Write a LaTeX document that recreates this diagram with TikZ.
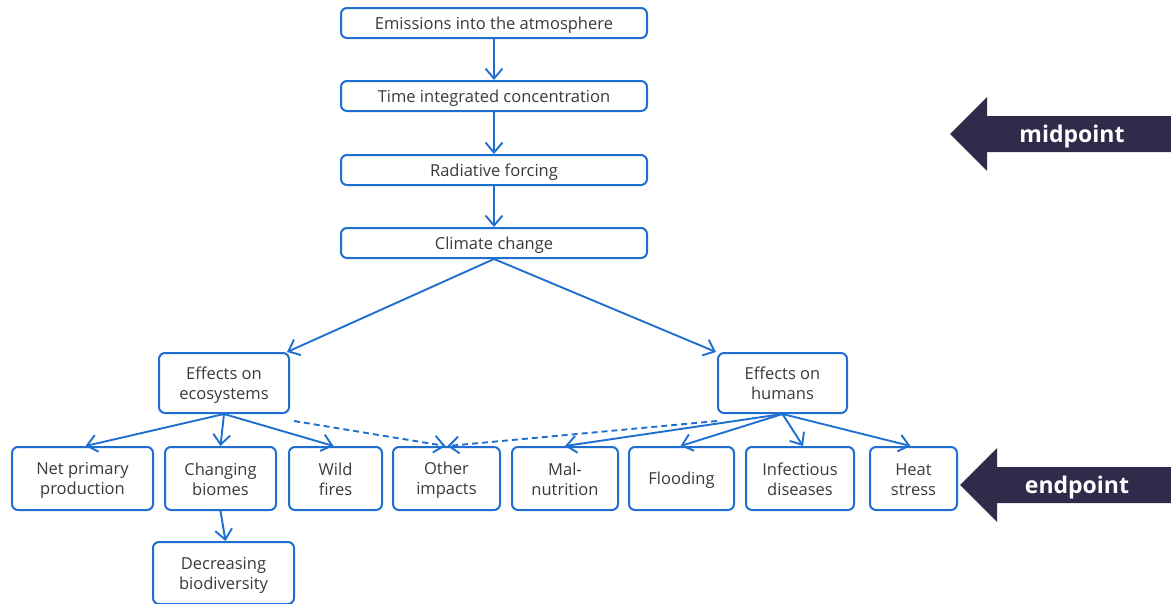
\documentclass[tikz,border=0pt]{standalone}
\usepackage{fontspec}
\setmainfont{Open Sans}
\usetikzlibrary{arrows.meta}
\definecolor{flowblue}{HTML}{1F6FD1}
\definecolor{txtgrey}{HTML}{3A3A3A}
\definecolor{darkplum}{HTML}{322A4B}
% fixed line struts so every label sits at the same height in its box
\newcommand\bxtop{\rule{0pt}{16pt}}
\newcommand\bxbot{\rule[-3pt]{0pt}{3pt}}
\tikzset{
  box/.style={draw=flowblue, line width=2pt, rounded corners=6pt, fill=white,
    text=txtgrey, font=\fontsize{16.5}{20}\selectfont, align=center, inner sep=0pt},
  link/.style={draw=flowblue, line width=1.9pt, -{Straight Barb[length=10pt,width=17pt,line width=1.9pt]}},
  dlink/.style={link, dash pattern=on 6pt off 4pt},
  banner/.style={fill=darkplum, draw=none},
  bannertext/.style={text=white, font=\bfseries\fontsize{23}{26}\selectfont}
}
\begin{document}
\begin{tikzpicture}[x=1pt, y=-1pt]
\useasboundingbox (0,0) rectangle (1171,603);
% main chain
\node[box, minimum width=306pt, minimum height=30pt] (emis) at (494,23) {\bxtop Emissions into the atmosphere\bxbot};
\node[box, minimum width=306pt, minimum height=30pt] (conc) at (494,96) {\bxtop Time integrated concentration\bxbot};
\node[box, minimum width=306pt, minimum height=30pt] (forc) at (494,170) {\bxtop Radiative forcing\bxbot};
\node[box, minimum width=306pt, minimum height=30pt] (clim) at (494,243) {\bxtop Climate change\bxbot};
% effect groups
\node[box, minimum width=130pt, minimum height=60pt] (eco) at (224,383) {\bxtop Effects on\\ecosystems\bxbot};
\node[box, minimum width=129pt, minimum height=60pt] (hum) at (782.5,383) {\bxtop Effects on\\humans\bxbot};
% endpoints
\node[box, minimum width=141pt, minimum height=63pt] (npp) at (82.5,478.5) {\bxtop Net primary\\production\bxbot};
\node[box, minimum width=111pt, minimum height=63pt] (biom) at (220.5,478.5) {\bxtop Changing\\biomes\bxbot};
\node[box, minimum width=93pt, minimum height=63pt] (fire) at (335.5,478.5) {\bxtop Wild\\fires\bxbot};
\node[box, minimum width=107pt, minimum height=63pt] (other) at (446.5,478.5) {\bxtop Other\\impacts\bxbot};
\node[box, minimum width=106pt, minimum height=63pt] (maln) at (565,478.5) {\bxtop Mal-\\nutrition\bxbot};
\node[box, minimum width=105pt, minimum height=63pt] (flood) at (681.5,478.5) {\bxtop Flooding\bxbot};
\node[box, minimum width=108pt, minimum height=63pt] (infe) at (800,478.5) {\bxtop Infectious\\diseases\bxbot};
\node[box, minimum width=87pt, minimum height=63pt] (heat) at (913.5,478.5) {\bxtop Heat\\stress\bxbot};
\node[box, minimum width=141pt, minimum height=62pt] (biod) at (223.5,573) {\bxtop Decreasing\\biodiversity\bxbot};
% connectors
\draw[link] (emis.south) -- (conc.north);
\draw[link] (conc.south) -- (forc.north);
\draw[link] (forc.south) -- (clim.north);
\draw[link] (clim.south) -- ([xshift=-3pt]eco.north east);
\draw[link] (clim.south) -- ([xshift=-1pt]hum.north west);
\draw[link] (eco.south) -- ([xshift=3pt]npp.north);
\draw[link] (eco.south) -- (biom.north);
\draw[link] (eco.south) -- ([xshift=-2pt]fire.north);
\draw[dlink] ([xshift=4pt,yshift=-7pt]eco.south east) -- ([xshift=-1pt]other.north);
\draw[dlink] ([yshift=-7pt]hum.south west) -- ([xshift=1pt]other.north);
\draw[link] (hum.south) -- (maln.north);
\draw[link] (hum.south) -- ([xshift=-1pt]flood.north);
\draw[link] (hum.south) -- ([xshift=3pt]infe.north);
\draw[link] (hum.south) -- ([xshift=-3pt]heat.north);
\draw[link] (biom.south) -- ([xshift=2pt]biod.north);
% level banners
\fill[banner] (950,134) -- (987,97) -- (987,116) -- (1171,116) -- (1171,152) -- (987,152) -- (987,171) -- cycle;
\node[bannertext] (mid) at (1072,136.5) {midpoint};
\fill[banner] (960,485) -- (997,448) -- (997,467) -- (1171,467) -- (1171,503) -- (997,503) -- (997,522) -- cycle;
\node[bannertext] (endp) at (1077,487.5) {endpoint};
\end{tikzpicture}
\end{document}
